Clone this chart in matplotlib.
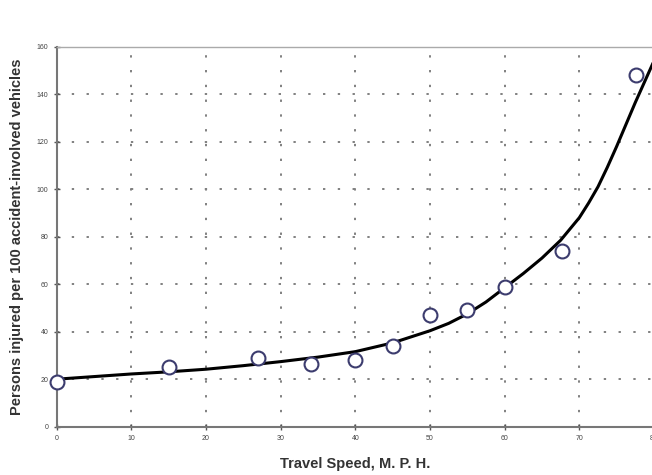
import matplotlib
matplotlib.use("Agg")
import matplotlib.pyplot as plt

plt.rcParams['font.family'] = ['Liberation Sans', 'DejaVu Sans']

# observed points
speed = [0, 15, 27, 34, 40, 45, 50, 55, 60, 67.7, 77.6]
injured = [19, 25, 29, 26.2, 28, 34, 47, 49, 59, 74, 148]

# fitted curve
curve_x = [0, 5, 10, 15, 20, 25, 30, 35, 40, 45, 50, 52.5, 55, 57.5, 60, 62.5,
           65, 67.5, 70, 71.25, 72.5, 73.75, 75, 77.5, 80]
curve_y = [20, 21.1, 22.2, 23.1, 24.2, 25.7, 27.4, 29.3, 31.6, 35.3, 40.4, 43.5,
           47.5, 52.5, 58.5, 64.5, 71, 78.5, 88, 94.2, 101, 109.2, 118, 136.5, 154]

xticks = [0, 10, 20, 30, 40, 50, 60, 70, 80]
yticks = [0, 20, 40, 60, 80, 100, 120, 140, 160]

fig = plt.figure(figsize=(6.52, 4.75), dpi=100)
ax = fig.add_axes([0.087, 0.1017, 0.916, 0.80])

ax.grid(True, color='#808080', linestyle=(0, (1.2, 6.4)), linewidth=1.4)
ax.plot(curve_x, curve_y, color='black', linewidth=2.2,
        solid_joinstyle='round', solid_capstyle='round', zorder=3)
ax.plot(speed, injured, linestyle='none', marker='o', markersize=10,
        markerfacecolor='white', markeredgecolor='#3c3c6e',
        markeredgewidth=1.5, zorder=4, clip_on=False)

ax.set_xlim(0, 80)
ax.set_ylim(0, 160)
ax.set_xticks(xticks)
ax.set_yticks(yticks)
ax.tick_params(direction='inout', length=4, width=1, colors='#555555',
               labelsize=5, labelcolor='#444444', pad=4)

for side in ['left', 'bottom']:
    ax.spines[side].set_color('#777777')
    ax.spines[side].set_linewidth(1.5)
for side in ['top', 'right']:
    ax.spines[side].set_color('#aaaaaa')
    ax.spines[side].set_linewidth(1.0)

ax.set_xlabel('Travel Speed, M. P. H.', fontsize=10.5, fontweight='bold',
              color='#333333', labelpad=11)
ax.set_ylabel('Persons injured per 100 accident-involved vehicles', fontsize=10.5,
              fontweight='bold', color='#333333', labelpad=9)

fig.savefig('out.png', dpi=100)
